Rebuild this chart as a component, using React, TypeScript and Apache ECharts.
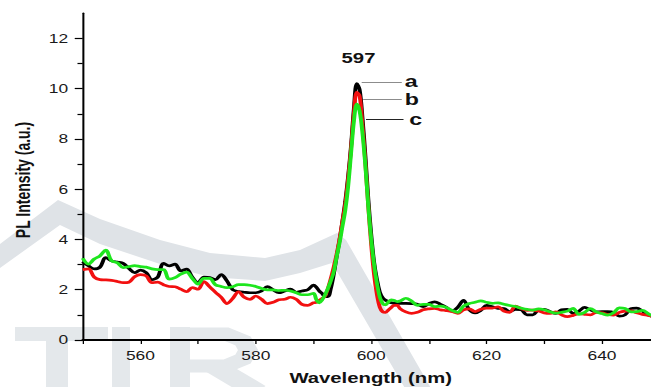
import React, { useEffect, useRef } from "react";
import * as echarts from "echarts";

// horizontal stretch of the reference figure
const STRETCH = 1.45;
const CHART_W = 460;
const CHART_H = 387;
const FONT = "'Liberation Sans', Arial, sans-serif";

const WAVELENGTH_NM = [
  550, 551, 552, 553, 554, 555, 556, 557, 558, 559,
  560, 561, 562, 563, 564, 565, 566, 567, 568, 569,
  570, 571, 572, 573, 574, 575, 576, 577, 578, 579,
  580, 581, 582, 583, 584, 585, 586, 587, 588, 589,
  590,
  590.5, 591, 591.5, 592, 592.5, 593, 593.5, 594, 594.5, 595,
  595.5, 596, 596.5, 597, 597.5, 598, 598.5, 599, 599.5, 600,
  600.5, 601, 601.5, 602, 602.5, 603, 603.5, 604, 604.5, 605,
  606, 607, 608, 609, 610, 611, 612, 613, 614, 615,
  616, 617, 618, 619, 620, 621, 622, 623, 624, 625,
  626, 627, 628, 629, 630, 631, 632, 633, 634, 635,
  636, 637, 638, 639, 640, 641, 642, 643, 644, 645,
  646, 647, 648, 649,
];

// curve a (black)
const INTENSITY_A = [
  3.12, 2.95, 2.83, 2.9, 3.28, 3.15, 3.1, 3.05, 2.85, 2.68,
  2.78, 2.68, 2.4, 2.5, 3.05, 2.95, 3.02, 2.75, 2.82, 2.5,
  2.28, 2.5, 2.48, 2.4, 2.6, 2.35, 2.0, 1.93, 1.9, 1.88,
  1.88, 1.95, 2.12, 2.0, 1.88, 1.95, 2.02, 1.9, 1.95, 2.0,
  2.18,
  2.1, 1.95, 1.85, 1.72, 1.72, 2.05, 2.6, 3.3, 3.95, 4.7,
  5.5, 6.5, 7.7, 9.2, 10.2, 9.95, 8.8, 7.3, 5.6, 4.2,
  3.1, 2.4, 1.9, 1.68, 1.58, 1.52, 1.48, 1.46, 1.46, 1.46,
  1.46, 1.45, 1.42, 1.33, 1.45, 1.52, 1.42, 1.3, 1.15, 1.3,
  1.58, 1.2, 1.08, 1.18, 1.38, 1.32, 1.26, 1.25, 1.13, 1.22,
  1.2, 1.0, 1.0, 1.2, 1.22, 1.13, 1.06, 1.2, 1.22, 1.06,
  1.15, 1.3, 1.2, 1.12, 1.13, 1.13, 1.1, 0.95, 1.0, 1.25,
  1.27, 1.15, 1.0, 0.92,
];

// curve b (red)
const INTENSITY_B = [
  2.8, 2.83, 2.5, 2.4, 2.39, 2.37, 2.33, 2.28, 2.3, 2.52,
  2.6, 2.55, 2.28, 2.3, 2.2, 2.13, 2.12, 2.02, 1.92, 2.08,
  2.02, 2.32, 2.12, 1.9, 1.7, 1.45, 1.65, 1.92, 1.7, 1.62,
  1.75, 1.62, 1.45, 1.5, 1.6, 1.62, 1.7, 1.62, 1.42, 1.38,
  1.48,
  1.5, 1.58, 1.65, 1.75, 2.05, 2.45, 2.9, 3.4, 4.0, 4.7,
  5.4, 6.4, 7.6, 9.0, 9.85, 9.7, 8.5, 7.0, 5.3, 3.8,
  2.6, 1.8, 1.3, 1.12, 1.1, 1.2, 1.3, 1.38, 1.38, 1.25,
  1.12, 1.06, 1.1, 1.2, 1.24, 1.26, 1.2, 1.17, 1.13, 1.06,
  1.2, 1.24, 1.13, 1.22, 1.27, 1.27, 1.32, 1.15, 1.1, 1.35,
  1.25, 1.18, 1.19, 1.15, 1.08, 1.06, 1.12, 1.0, 0.93, 0.98,
  1.05, 1.02, 1.0, 1.1, 1.08, 1.02, 0.99, 1.1, 1.15, 1.16,
  1.08, 1.02, 0.98, 0.93,
];

// curve c (green)
const INTENSITY_C = [
  3.25, 3.02, 3.22, 3.35, 3.58, 3.15, 3.07, 2.88, 2.92, 2.96,
  2.92, 2.9, 2.83, 2.8, 2.8, 2.42, 2.48, 2.62, 2.7, 2.45,
  2.22, 2.45, 2.45, 2.2, 2.13, 2.08, 2.12, 2.2, 2.2, 2.18,
  2.13, 2.05, 1.99, 1.99, 1.97, 1.98, 1.95, 1.88, 1.8, 1.8,
  1.86,
  1.6, 1.48, 1.6, 1.8, 2.05, 2.35, 2.7, 3.3, 3.85, 4.5,
  5.15, 6.1, 7.4, 8.7, 9.38, 9.1, 8.2, 6.9, 5.3, 4.0,
  3.0, 2.25, 1.7, 1.45, 1.4, 1.52, 1.6, 1.57, 1.53, 1.55,
  1.66, 1.55, 1.38, 1.42, 1.42, 1.33, 1.35, 1.3, 1.18, 1.1,
  1.35, 1.45, 1.5, 1.56, 1.5, 1.46, 1.48, 1.42, 1.37, 1.33,
  1.27, 1.22, 1.19, 1.24, 1.2, 1.12, 1.07, 1.1, 1.15, 1.26,
  1.02, 1.1, 1.25, 1.12, 1.05, 0.99, 1.08, 1.28, 1.25, 1.12,
  1.13, 1.18, 1.05, 0.93,
];

const X_TICKS_LABELLED = [560, 580, 600, 620, 640];
const Y_MAJOR_TICKS = [0, 2, 4, 6, 8, 10, 12];
const Y_MINOR_TICKS = [1, 3, 5, 7, 9, 11];
const CURVE_LABELS = ["a", "b", "c"];
const PEAK_TEXT = "597";
const X_TITLE = "Wavelength (nm)";
const Y_TITLE = "PL Intensity (a.u.)";

const sx = (x: number) => x / STRETCH;

function pairs(vals: number[]) {
  return WAVELENGTH_NM.map((w, i) => [w, vals[i]]);
}

function leader(label: string, y: number, x0: number, x1: number, color: string, dist: number) {
  return {
    symbol: "none",
    silent: true,
    animation: false,
    emphasis: { disabled: true },
    lineStyle: { color, width: 1, type: "solid" },
    label: {
      show: true,
      position: "end",
      formatter: label,
      distance: dist,
      fontFamily: FONT,
      fontWeight: "bold",
      fontSize: 16,
      color: "#111",
    },
    data: [[{ coord: [x0, y] }, { coord: [x1, y] }]],
  };
}

const WM = "#dfe3e7";
const WM_LETTERS = "#e4e8eb";

function watermark() {
  const top = [
    [0, 244], [58, 200], [100, 219], [160, 240], [210, 253], [265, 258], [300, 250], [337, 233],
    [346, 240], [432, 390],
  ];
  const bottom = [
    [406, 390], [332, 263], [300, 273], [265, 281], [210, 277], [160, 264], [100, 244], [60, 225], [0, 268],
  ];
  const band = [...top, ...bottom].map(([x, y]) => [sx(x), y]);
  const r = (x0: number, y0: number, x1: number, y1: number) => ({
    type: "rect",
    z: -10,
    silent: true,
    shape: { x: sx(x0), y: y0, width: sx(x1 - x0), height: y1 - y0 },
    style: { fill: WM_LETTERS },
  });
  return [
    { type: "polygon", z: -10, silent: true, shape: { points: band }, style: { fill: WM } },
    r(15, 327, 108, 341),
    r(46, 341, 68, 390),
    r(112, 327, 130, 390),
    r(170, 327, 190, 390),
    {
      type: "polyline",
      z: -10,
      silent: true,
      shape: {
        points: [[190, 334], [226, 334], [243, 341], [248, 350], [243, 359], [226, 366], [190, 366]].map(
          ([x, y]) => [sx(x), y]
        ),
      },
      style: { stroke: WM_LETTERS, lineWidth: 13, fill: "none" },
    },
    {
      type: "polyline",
      z: -10,
      silent: true,
      shape: { points: [[214, 366], [258, 392]].map(([x, y]) => [sx(x), y]) },
      style: { stroke: WM_LETTERS, lineWidth: 16, fill: "none" },
    },
  ];
}

export default function App() {
  const ref = useRef<HTMLDivElement>(null);

  useEffect(() => {
    if (!ref.current) return;
    const chart = echarts.init(ref.current, undefined, { renderer: "svg" });
    const plotLeft = sx(82.7);
    const plotRight = sx(82.7 + 100 * 5.77);

    const lineSeries = (
      name: string,
      vals: number[],
      color: string,
      z: number,
      extra: Record<string, unknown>
    ) => ({
      type: "line",
      name,
      data: pairs(vals),
      symbol: "none",
      showSymbol: false,
      smooth: 0.35,
      z,
      lineStyle: { color, width: 2.7 },
      itemStyle: { color },
      emphasis: { disabled: true },
      ...extra,
    });

    chart.setOption({
      animation: false,
      backgroundColor: "#ffffff",
      grid: {
        left: plotLeft,
        right: CHART_W - plotRight,
        top: 13.2,
        bottom: 47,
        containLabel: false,
      },
      xAxis: {
        type: "value",
        min: 550,
        max: 650,
        interval: 10,
        axisLine: { show: true, onZero: false, lineStyle: { color: "#000", width: 1.8 } },
        axisTick: { show: true, length: 4, lineStyle: { color: "#000", width: 0.9 } },
        axisLabel: {
          formatter: (v: number) => (X_TICKS_LABELLED.includes(v) ? String(v) : ""),
          margin: 10,
          fontSize: 12,
          fontFamily: FONT,
          color: "#1a1a1a",
        },
        splitLine: { show: false },
      },
      yAxis: [
        {
          type: "value",
          position: "left",
          min: 0,
          max: 13,
          axisLine: { show: true, lineStyle: { color: "#000", width: 1.4 } },
          axisTick: {
            show: true,
            customValues: Y_MAJOR_TICKS,
            length: 5.5,
            lineStyle: { color: "#000", width: 1.2 },
          },
          axisLabel: {
            customValues: Y_MAJOR_TICKS,
            margin: 10,
            fontSize: 12,
            fontFamily: FONT,
            color: "#1a1a1a",
          },
          splitLine: { show: false },
        },
        {
          type: "value",
          position: "left",
          min: 0,
          max: 13,
          axisLine: { show: false },
          axisTick: {
            show: true,
            customValues: Y_MINOR_TICKS,
            length: 3.6,
            lineStyle: { color: "#000", width: 1.2 },
          },
          axisLabel: { show: false },
          splitLine: { show: false },
        },
      ],
      graphic: [
        ...watermark(),
        {
          type: "text",
          x: sx(23),
          y: 180,
          rotation: Math.PI / 2,
          silent: true,
          style: {
            text: Y_TITLE,
            font: `bold 14px ${FONT}`,
            fill: "#111",
            textAlign: "center",
            textVerticalAlign: "middle",
            align: "center",
            verticalAlign: "middle",
          },
        },
        {
          type: "text",
          x: sx(370.7),
          y: 378.5,
          silent: true,
          style: {
            text: X_TITLE,
            font: `bold 14px ${FONT}`,
            fill: "#111",
            textAlign: "center",
            textVerticalAlign: "middle",
            align: "center",
            verticalAlign: "middle",
          },
        },
      ],
      series: [
        lineSeries(CURVE_LABELS[0], INTENSITY_A, "#000000", 3, {
          markLine: leader(CURVE_LABELS[0], 10.27, 598.35, 605.3, "#8c8c8c", 2),
          markPoint: {
            silent: true,
            symbol: "rect",
            symbolSize: 1,
            itemStyle: { color: "rgba(0,0,0,0)" },
            label: {
              show: true,
              position: "inside",
              formatter: PEAK_TEXT,
              fontFamily: FONT,
              fontWeight: "bold",
              fontSize: 14,
              color: "#111",
            },
            data: [{ coord: [597.8, 11.2] }],
          },
        }),
        lineSeries(CURVE_LABELS[1], INTENSITY_B, "#f21010", 4, {
          markLine: leader(CURVE_LABELS[1], 9.57, 598.6, 605.3, "#8c8c8c", 2),
        }),
        lineSeries(CURVE_LABELS[2], INTENSITY_C, "#1ee61e", 5, {
          markLine: leader(CURVE_LABELS[2], 8.78, 599.1, 605.6, "#222222", 4),
        }),
      ],
    });
    return () => chart.dispose();
  }, []);

  return (
    <div
      style={{
        position: "fixed",
        left: 0,
        top: 0,
        width: 651,
        height: 387,
        overflow: "hidden",
        background: "#fff",
      }}
    >
      <div
        ref={ref}
        style={{
          width: CHART_W,
          height: CHART_H,
          transform: `scaleX(${STRETCH})`,
          transformOrigin: "0 0",
        }}
      />
    </div>
  );
}
